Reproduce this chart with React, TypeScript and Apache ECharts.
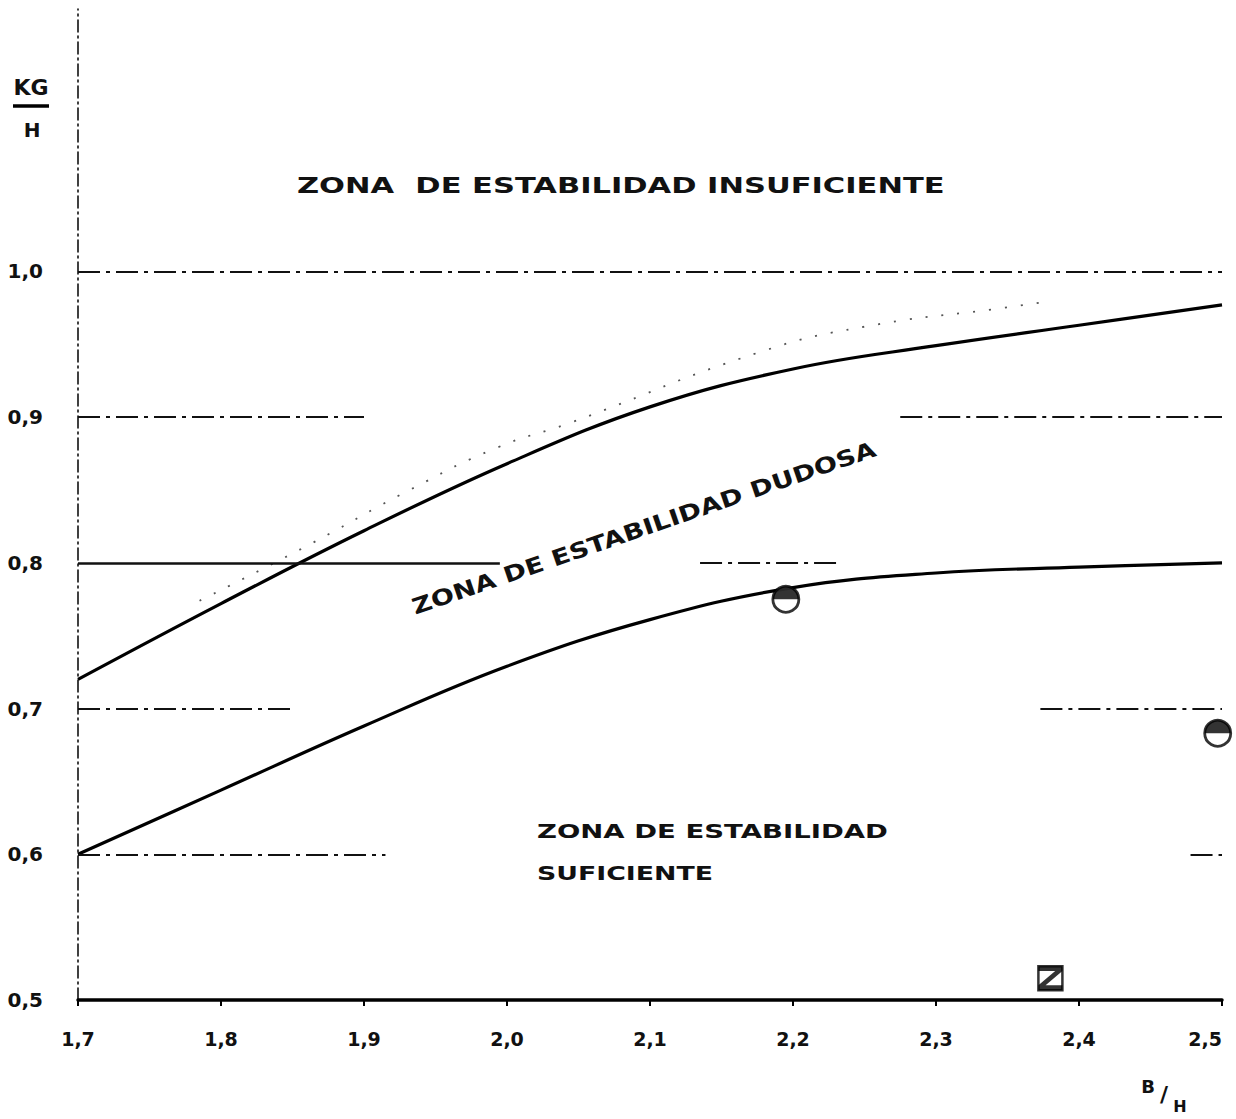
import React, { useEffect, useRef } from "react";
import * as echarts from "echarts";

// ---- data ----
const xTickLabels = ["1,7", "1,8", "1,9", "2,0", "2,1", "2,2", "2,3", "2,4", "2,5"];
const yTickLabels = ["0,5", "0,6", "0,7", "0,8", "0,9", "1,0"];

const curveX = [1.7, 1.8, 1.9, 2.0, 2.1, 2.2, 2.3, 2.4, 2.5];
const upperCurve = [0.72, 0.772, 0.822, 0.868, 0.907, 0.933, 0.949, 0.963, 0.977];
const lowerCurve = [0.6, 0.644, 0.688, 0.729, 0.761, 0.783, 0.793, 0.797, 0.8];

const faintX = [1.785, 1.857, 1.932, 1.993, 2.044, 2.175, 2.25, 2.348, 2.376];
const faintY = [0.774, 0.81, 0.85, 0.879, 0.896, 0.944, 0.962, 0.975, 0.979];

const halfCirclePoints = [
  [2.195, 0.775],
  [2.497, 0.683],
];
const squarePoints = [[2.38, 0.515]];

// horizontal reference segments: [y, xStart, xEnd, solid?]
const refSegments: [number, number, number, boolean][] = [
  [1.0, 1.7, 2.5, false],
  [0.9, 1.7, 1.9, false],
  [0.9, 2.275, 2.5, false],
  [0.8, 1.7, 1.995, true],
  [0.8, 2.135, 2.234, false],
  [0.7, 1.7, 1.85, false],
  [0.7, 2.373, 2.5, false],
  [0.6, 1.7, 1.915, false],
  [0.6, 2.478, 2.5, false],
];

const zoneTop = "ZONA  DE ESTABILIDAD INSUFICIENTE";
const zoneMid = "ZONA DE ESTABILIDAD DUDOSA";
const zoneLow1 = "ZONA DE ESTABILIDAD";
const zoneLow2 = "SUFICIENTE";
const yTitleTop = "KG";
const yTitleBottom = "H";
const xTitleTop = "B";
const xTitleBottom = "H";

const FONT = "DejaVu Sans";

function fit(text: string, size: number, target: number): number {
  const c = document.createElement("canvas").getContext("2d");
  if (!c) return 1;
  c.font = `bold ${size}px '${FONT}'`;
  const w = c.measureText(text).width;
  return w > 0 ? target / w : 1;
}

function tickLabel(list: string[], start: number) {
  return (v: number) => {
    const i = Math.round((v - start) * 10);
    if (Math.abs(v - (start + i / 10)) > 1e-6) return "";
    return list[i] ?? "";
  };
}

export default function App() {
  const ref = useRef<HTMLDivElement>(null);

  useEffect(() => {
    if (!ref.current) return;
    const chart = echarts.init(ref.current, null, { renderer: "svg" });

    const dashDot = [22, 6, 4, 6];
    const markData = refSegments.map(([y, x1, x2, solid]) => [
      {
        coord: [x1, y],
        lineStyle: {
          color: "#111",
          width: solid ? 2.5 : 2.2,
          type: solid ? "solid" : dashDot,
        },
      },
      { coord: [x2, y] },
    ]);

    const txt = (
      text: string,
      x: number,
      y: number,
      size: number,
      width: number | null,
      extra: any = {}
    ) => ({
      type: "text",
      x,
      y,
      scaleX: width ? fit(text, size, width) : 1,
      ...extra,
      style: {
        text,
        fontFamily: FONT,
        fontWeight: "bold",
        fontSize: size,
        fill: "#111",
        textAlign: extra.textAlign ?? "left",
        textVerticalAlign: "middle",
      },
    });

    chart.setOption({
      animation: false,
      backgroundColor: "#fff",
      grid: {
        left: 78,
        right: 14,
        top: 9,
        bottom: 119,
        containLabel: false,
        outerBoundsMode: "none",
      },
      xAxis: {
        type: "value",
        min: 1.7,
        max: 2.5,
        interval: 0.1,
        axisLine: { show: true, onZero: false, lineStyle: { color: "#000", width: 3.5 } },
        axisTick: { show: true, length: 6, lineStyle: { color: "#000", width: 2 } },
        axisLabel: {
          formatter: tickLabel(xTickLabels, 1.7),
          color: "#111",
          fontFamily: FONT,
          fontWeight: "bold",
          fontSize: 19,
          margin: 29,
          alignMaxLabel: "right",
        },
        splitLine: { show: false },
      },
      yAxis: {
        type: "value",
        min: 0.5,
        max: 1.18,
        interval: 0.1,
        axisLine: { show: true, onZero: false, lineStyle: { color: "#111", width: 1.6, type: [12, 4, 2, 4] } },
        axisTick: { show: false },
        axisLabel: {
          formatter: tickLabel(yTickLabels, 0.5),
          color: "#111",
          fontFamily: FONT,
          fontWeight: "bold",
          fontSize: 20,
          margin: 35,
        },
        splitLine: { show: false },
      },
      series: [
        {
          type: "line",
          data: [],
          silent: true,
          markLine: { silent: true, symbol: ["none", "none"], label: { show: false }, data: markData },
        },
        {
          type: "line",
          data: faintX.map((x, i) => [x, faintY[i]]),
          smooth: true,
          symbol: "none",
          lineStyle: { color: "#555", width: 1.8, type: [2, 14] },
        },
        {
          type: "line",
          data: curveX.map((x, i) => [x, upperCurve[i]]),
          smooth: 0.4,
          symbol: "none",
          clip: false,
          lineStyle: { color: "#000", width: 3.2 },
        },
        {
          type: "line",
          data: curveX.map((x, i) => [x, lowerCurve[i]]),
          smooth: 0.4,
          symbol: "none",
          clip: false,
          lineStyle: { color: "#000", width: 3.2 },
        },
        {
          type: "scatter",
          data: halfCirclePoints,
          clip: false,
          symbol: "circle",
          symbolSize: 26,
          itemStyle: { color: "#fff", borderColor: "#000", borderWidth: 2.8 },
          z: 5,
        },
        {
          type: "scatter",
          data: halfCirclePoints,
          clip: false,
          symbol: "path://M0,10 A10,10 0 0 1 20,10 Z",
          symbolSize: [26, 13],
          symbolOffset: [0, -6.5],
          itemStyle: { color: "#000" },
          z: 6,
        },
        {
          type: "scatter",
          data: squarePoints,
          clip: false,
          symbol: "rect",
          symbolSize: 24,
          itemStyle: { color: "#fff", borderColor: "#000", borderWidth: 2.5 },
          z: 5,
        },
        {
          type: "scatter",
          data: squarePoints,
          clip: false,
          symbol: "path://M0,0 H20 V4 L6,16 H20 V20 H0 V16 L14,4 H0 Z",
          symbolSize: 24,
          itemStyle: { color: "#000" },
          z: 6,
        },
      ],
      graphic: [
        txt(zoneTop, 297, 185, 22, 648),
        txt(zoneMid, 644, 528, 22, 489, { textAlign: "center", rotation: (19 * Math.PI) / 180 }),
        txt(zoneLow1, 537, 831, 20, 351),
        txt(zoneLow2, 537, 873, 20, 176),
        txt(yTitleTop, 31, 87, 22, null, { textAlign: "center" }),
        { type: "line", shape: { x1: 13, y1: 106, x2: 49, y2: 106 }, style: { stroke: "#000", lineWidth: 3.5 } },
        txt(yTitleBottom, 32, 130, 20, null, { textAlign: "center" }),
        txt(xTitleTop, 1148, 1086, 18, null, { textAlign: "center" }),
        txt("/", 1164, 1094, 22, null, { textAlign: "center" }),
        txt(xTitleBottom, 1180, 1106, 16, null, { textAlign: "center" }),
      ],
    });

    return () => chart.dispose();
  }, []);

  return (
    <div
      ref={ref}
      style={{ position: "fixed", left: 0, top: 0, width: 1236, height: 1119, background: "#fff" }}
    />
  );
}
